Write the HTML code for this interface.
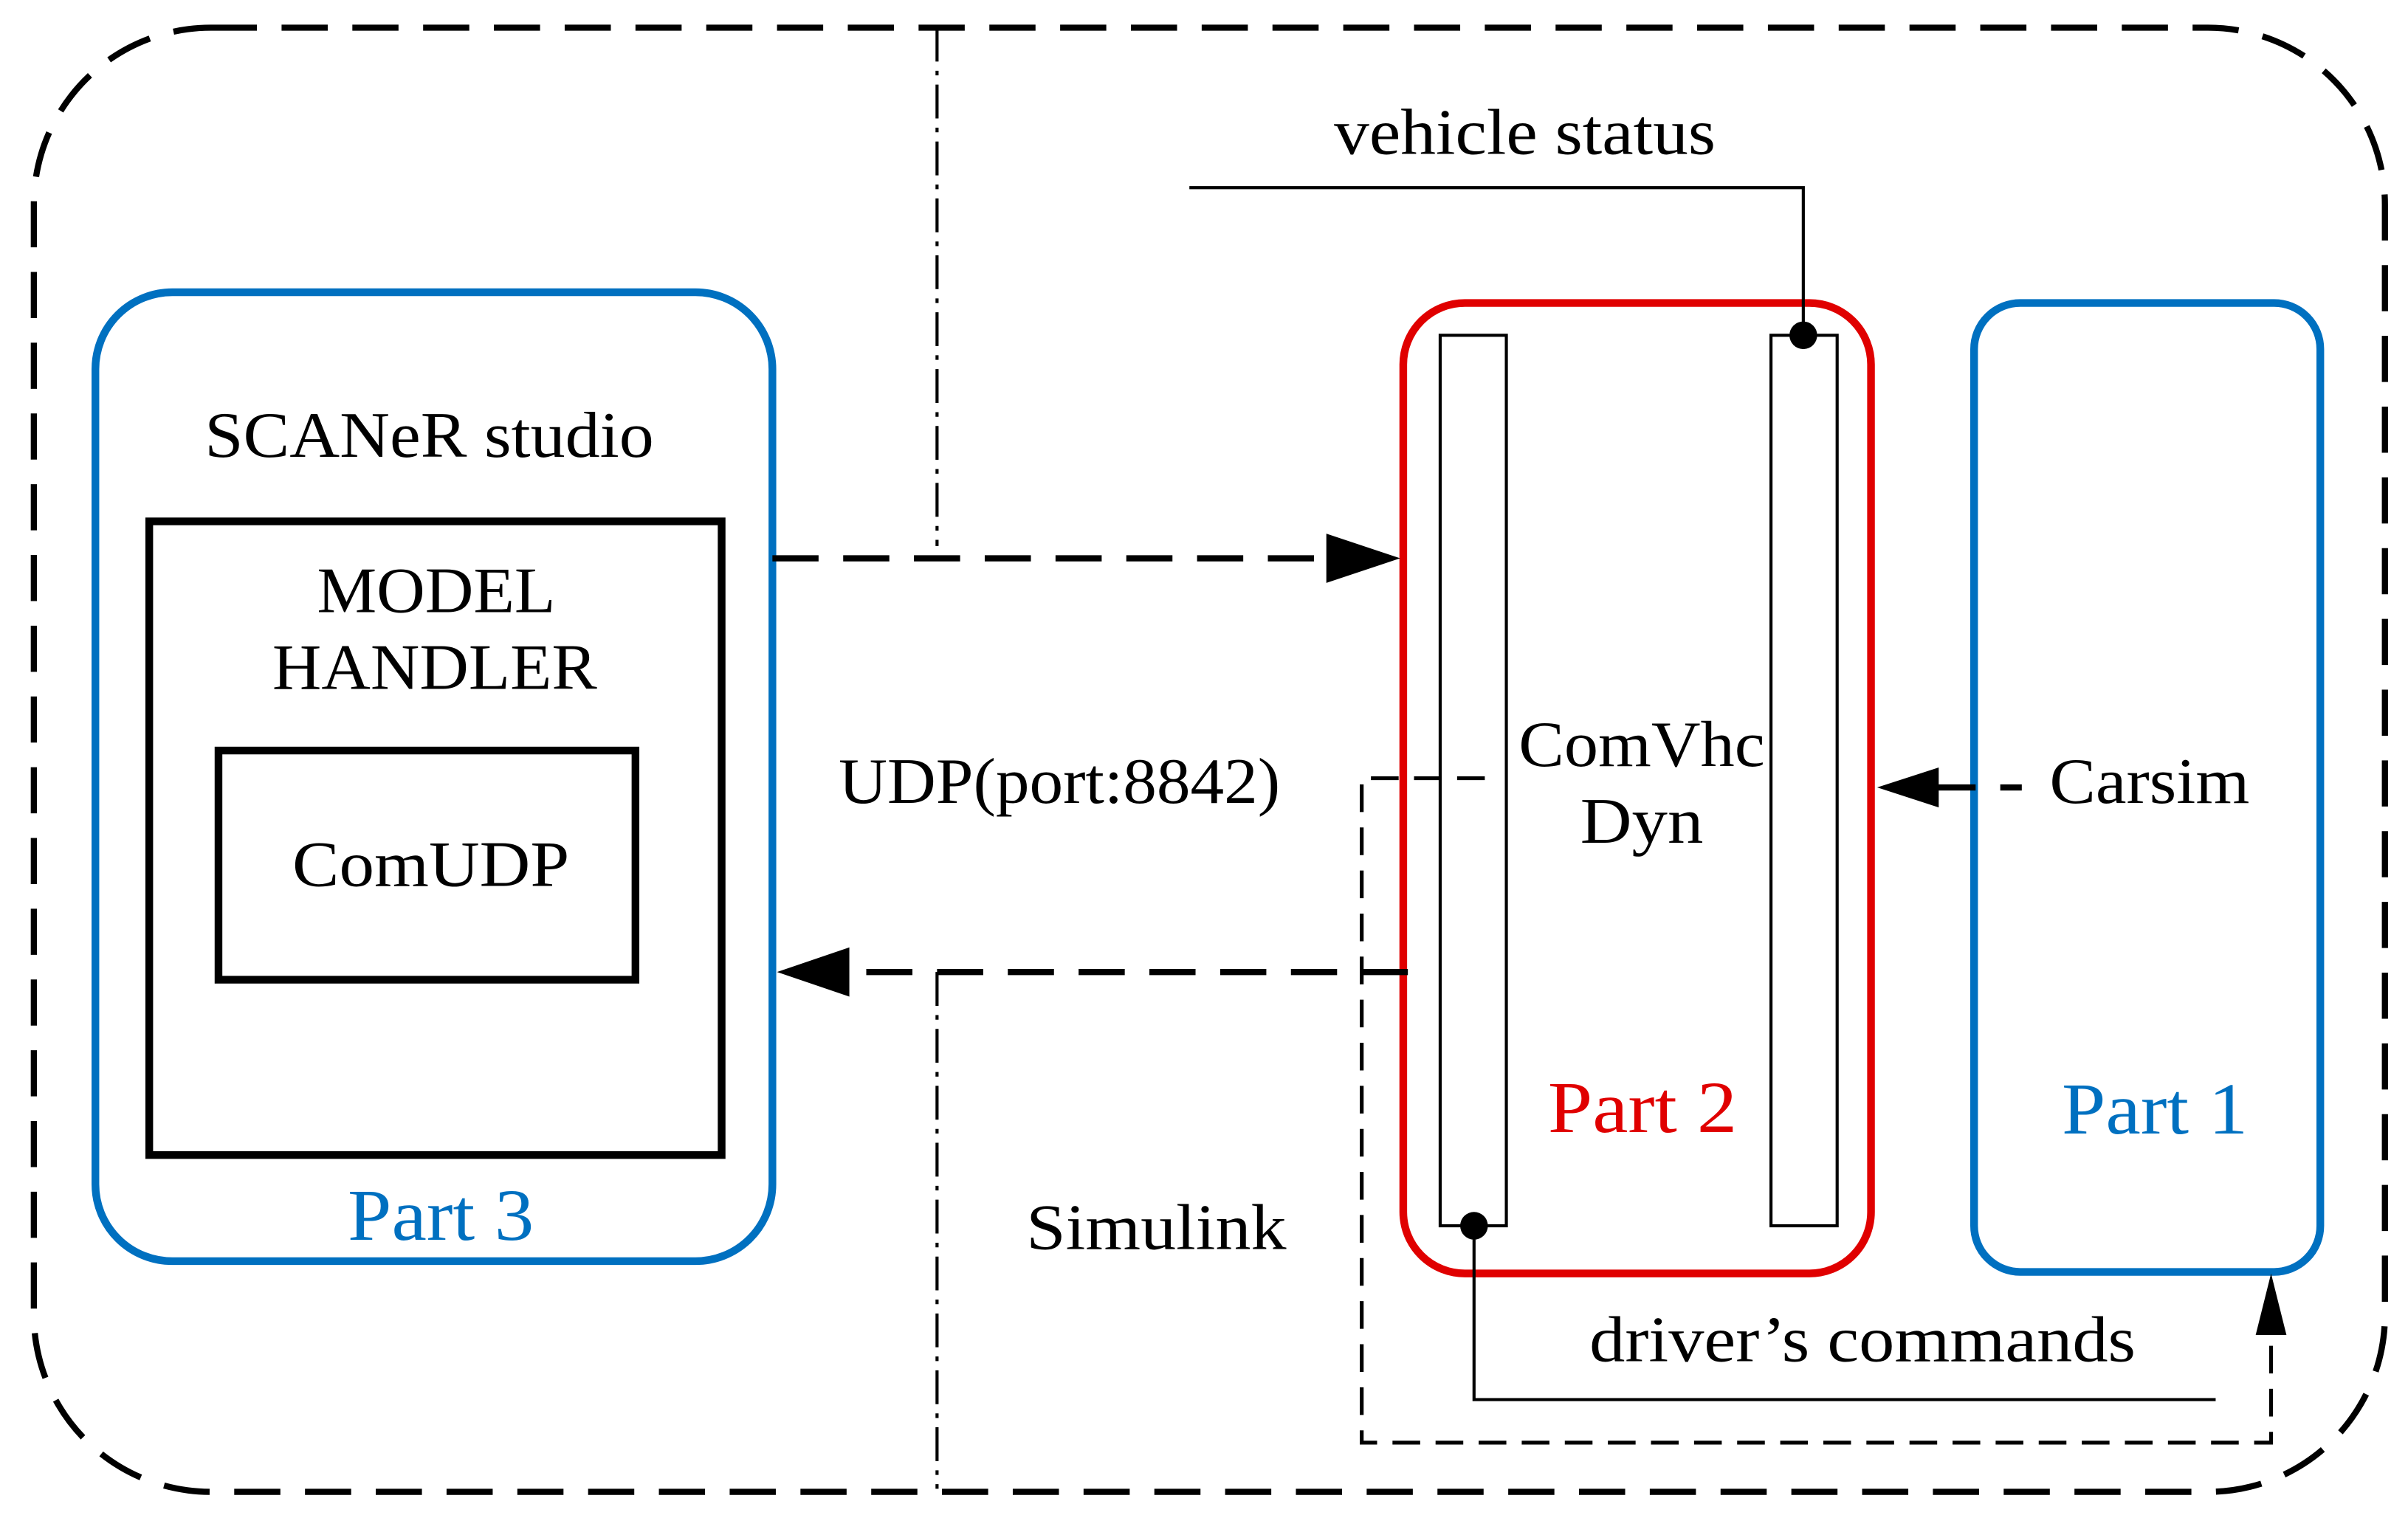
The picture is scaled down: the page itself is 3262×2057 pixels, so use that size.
<!DOCTYPE html>
<html><head><style>html,body{margin:0;padding:0;background:#fff}svg{display:block}</style></head>
<body>
<svg width="3262" height="2057" viewBox="0 0 1565 987" preserveAspectRatio="none" xmlns="http://www.w3.org/2000/svg" font-family="Liberation Serif, serif">
<rect x="22" y="18" width="1528" height="952" rx="115" fill="none" stroke="#000" stroke-width="4" stroke-dasharray="30,16"/>
<g stroke="#000" stroke-width="2" fill="none" stroke-dasharray="22,6,3,6">
<line x1="609" y1="18" x2="609" y2="355"/>
<line x1="609" y1="632" x2="609" y2="968"/>
</g>
<rect x="62" y="190" width="440" height="630" rx="50" fill="none" stroke="#0070c0" stroke-width="5"/>
<rect x="97" y="339" width="372" height="412" fill="none" stroke="#000" stroke-width="5"/>
<rect x="142" y="488" width="271" height="149" fill="none" stroke="#000" stroke-width="5"/>
<rect x="912" y="197" width="304" height="631" rx="40" fill="none" stroke="#e00000" stroke-width="5"/>
<rect x="936" y="218" width="43" height="579" fill="#fff" stroke="#000" stroke-width="2"/>
<rect x="1151" y="218" width="43" height="579" fill="#fff" stroke="#000" stroke-width="2"/>
<rect x="1283" y="197" width="225" height="630" rx="30" fill="none" stroke="#0070c0" stroke-width="5"/>
<g stroke="#000" stroke-width="4" fill="none" stroke-dasharray="30,16">
<line x1="502" y1="363" x2="866" y2="363"/>
<line x1="915" y1="632" x2="548" y2="632"/>
</g>
<polygon points="910,363 862,347 862,379" fill="#000"/>
<polygon points="505,632 552,616 552,648" fill="#000"/>
<line x1="1256" y1="512" x2="1284" y2="512" stroke="#000" stroke-width="4"/>
<line x1="1300" y1="512" x2="1314" y2="512" stroke="#000" stroke-width="4"/>
<polygon points="1220,512 1260,499 1260,525" fill="#000"/>
<polyline points="773,122 1172,122 1172,218" fill="none" stroke="#000" stroke-width="2"/>
<circle cx="1172" cy="218" r="9" fill="#000"/>
<polyline points="958,797 958,910 1440,910" fill="none" stroke="#000" stroke-width="2"/>
<circle cx="958" cy="797" r="9" fill="#000"/>
<polyline points="965,506 885,506 885,938 1476,938 1476,870" fill="none" stroke="#000" stroke-width="2.5" stroke-dasharray="18,10"/>
<polygon points="1476,828 1466,868 1486,868" fill="#000"/>
<g font-size="42" fill="#000">
<text x="133" y="297" textLength="292" lengthAdjust="spacingAndGlyphs">SCANeR studio</text>
<text x="206" y="398" textLength="155" lengthAdjust="spacingAndGlyphs">MODEL</text>
<text x="177" y="448" textLength="211" lengthAdjust="spacingAndGlyphs">HANDLER</text>
<text x="190" y="576" textLength="180" lengthAdjust="spacingAndGlyphs">ComUDP</text>
<text x="867" y="100" textLength="248" lengthAdjust="spacingAndGlyphs">vehicle status</text>
<text x="545" y="522" textLength="287" lengthAdjust="spacingAndGlyphs">UDP(port:8842)</text>
<text x="987" y="498" textLength="160" lengthAdjust="spacingAndGlyphs">ComVhc</text>
<text x="1027" y="548" textLength="80" lengthAdjust="spacingAndGlyphs">Dyn</text>
<text x="1332" y="522" textLength="130" lengthAdjust="spacingAndGlyphs">Carsim</text>
<text x="667" y="812" textLength="169" lengthAdjust="spacingAndGlyphs">Simulink</text>
<text x="1033" y="885" textLength="355" lengthAdjust="spacingAndGlyphs">driver’s commands</text>
</g>
<g font-size="48">
<text x="226" y="806" fill="#0070c0" textLength="121" lengthAdjust="spacingAndGlyphs">Part 3</text>
<text x="1006" y="736" fill="#e00000" textLength="123" lengthAdjust="spacingAndGlyphs">Part 2</text>
<text x="1340" y="737" fill="#0070c0" textLength="121" lengthAdjust="spacingAndGlyphs">Part 1</text>
</g>
</svg>
</body></html>
